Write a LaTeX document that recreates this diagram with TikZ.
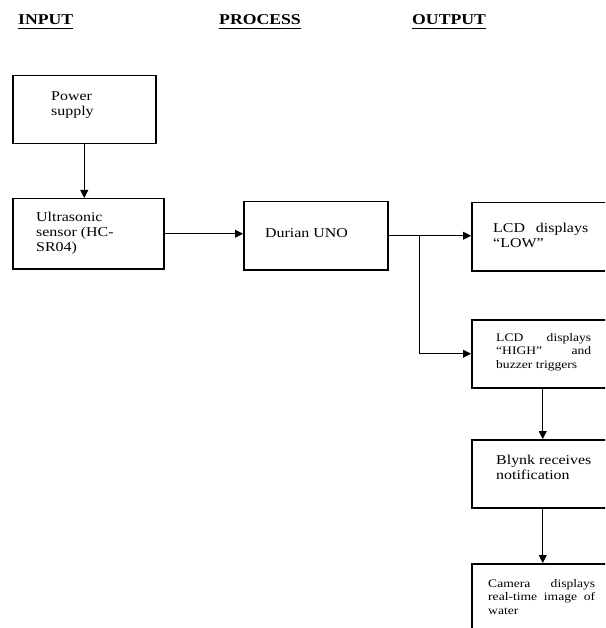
\documentclass[tikz,border=0pt]{standalone}
\usepackage{fontspec}
\setmainfont{Liberation Serif}[FakeStretch=1.18]
\usetikzlibrary{arrows.meta}
\begin{document}
\begin{tikzpicture}[x=1pt,y=-1pt,
  box/.style={draw, line width=1.5pt, inner sep=0pt, anchor=north west},
  conn/.style={line width=0.9pt},
  arr/.style={conn, -{Triangle[length=8pt,width=8pt]}},
  txt/.style={anchor=base west, inner sep=0pt, font=\fontsize{13.5}{15}\selectfont},
  small/.style={anchor=base west, inner sep=0pt, font=\fontsize{11.5}{13.5}\selectfont},
  head/.style={anchor=base west, inner sep=0pt, font=\fontsize{15}{18}\selectfont\bfseries},
  uline/.style={line width=1.8pt}]
\useasboundingbox (0,0) rectangle (605,628);
\clip (0,0) rectangle (605,628);
\fill[white] (0,0) rectangle (605,628);

% headers
\node[head] (h1) at (18,25) {INPUT};
\node[head] (h2) at (219,25) {PROCESS};
\node[head] (h3) at (412,25) {OUTPUT};
\draw[uline] ([yshift=-3.5pt]h1.base west) -- ([yshift=-3.5pt]h1.base east);
\draw[uline] ([yshift=-3.5pt]h2.base west) -- ([yshift=-3.5pt]h2.base east);
\draw[uline] ([yshift=-3.5pt]h3.base west) -- ([yshift=-3.5pt]h3.base east);

% boxes
\node[box, minimum width=143pt, minimum height=68pt] (ps) at (12,75) {};
\node[box, minimum width=151pt, minimum height=70pt] (us) at (12,198) {};
\node[box, minimum width=144pt, minimum height=68pt] (du) at (243,201) {};
\node[box, minimum width=150pt, minimum height=68pt] (low) at (471,202) {};
\node[box, minimum width=142pt, minimum height=68pt] (high) at (471,319) {};
\node[box, minimum width=142pt, minimum height=68pt] (bl) at (471,439) {};
\node[box, minimum width=142pt, minimum height=80pt] (cam) at (471,563) {};

% texts
\node[txt] (tps) at (51,101) {\vtop{\hbox{Power}\hbox{supply}}};
\node[txt] (tus) at (36,222) {\vtop{\hbox{Ultrasonic}\hbox{sensor (HC-}\hbox{SR04)}}};
\node[txt] (tdu) at (265,237) {Durian UNO};
\node[txt] (tlow) at (493,232) {\vtop{\hbox to 95pt{LCD\hfill displays}\hbox{“LOW”}}};
\node[small] (thigh) at (496,341) {\vtop{\hbox to 95pt{LCD\hfill displays}\hbox to 95pt{“HIGH”\hfill and}\hbox{buzzer triggers}}};
\node[txt] (tbl) at (496,464) {\vtop{\hbox{Blynk receives}\hbox{notification}}};
\node[small] (tcam) at (488,587) {\vtop{\hbox to 107pt{Camera\hfill displays}\hbox to 107pt{real-time image of}\hbox{water}}};

% connectors
\draw[arr] (ps.south) -- (ps.south |- us.north);
\draw[arr] (us.east) -- (us.east -| du.west);
\coordinate (br) at (419,0 |- du.east);
\draw[arr] (du.east) -- (du.east -| low.west);
\draw[arr] (br) |- (high.west);
\draw[arr] (high.south) -- (bl.north);
\draw[arr] (bl.south) -- (cam.north);
\end{tikzpicture}
\end{document}
